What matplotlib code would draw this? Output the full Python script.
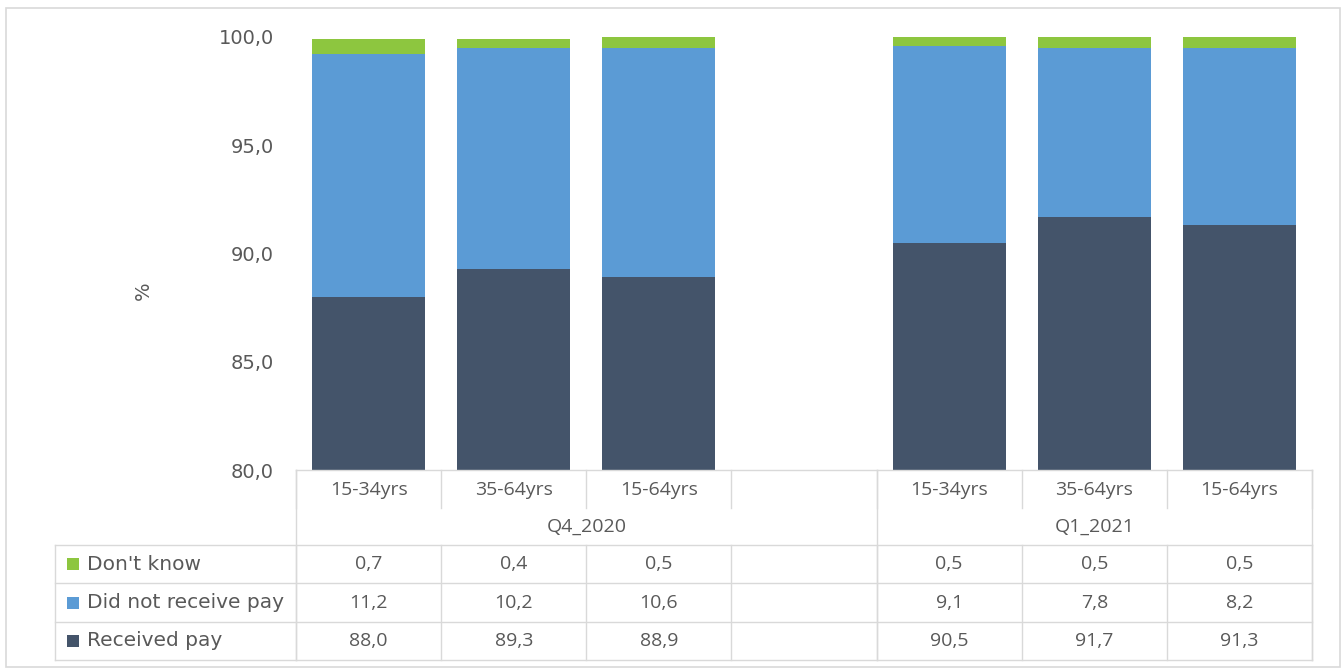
import numpy as np
import matplotlib
matplotlib.use("Agg")
import matplotlib.pyplot as plt
from matplotlib.transforms import blended_transform_factory
from matplotlib.lines import Line2D
from matplotlib.patches import Rectangle

# data
groups = ["Q4_2020", "Q1_2021"]
ages = ["15-34yrs", "35-64yrs", "15-64yrs"]
received = [88.0, 89.3, 88.9, 90.5, 91.7, 91.3]
not_received = [11.2, 10.2, 10.6, 9.1, 7.8, 8.2]
dont_know = [0.7, 0.4, 0.5, 0.5, 0.5, 0.5]
series_names = ["Don't know", "Did not receive pay", "Received pay"]
colors = {"Received pay": "#44546A", "Did not receive pay": "#5B9BD5", "Don't know": "#8DC63F"}

xpos = [0, 1, 2, 4, 5, 6]
W, H = 1341, 669
txt = "#595959"
grid = "#D9D9D9"
plt.rcParams['font.family'] = ['Open Sans', 'DejaVu Sans']
wide = ['DejaVu Sans']

fig = plt.figure(figsize=(W / 100, H / 100), dpi=100)
ax = fig.add_axes([296 / W, 1 - 470 / H, (1312 - 296) / W, (470 - 37) / H])

bw = 0.78
ax.bar(xpos, received, bw, color=colors["Received pay"])
ax.bar(xpos, not_received, bw, bottom=received, color=colors["Did not receive pay"])
bot2 = np.array(received) + np.array(not_received)
ax.bar(xpos, dont_know, bw, bottom=bot2, color=colors["Don't know"])

ax.set_xlim(-0.5, 6.5)
ax.set_ylim(80, 100)
ax.set_yticks([80, 85, 90, 95, 100])
ax.set_yticklabels([f"{v:.1f}".replace(".", ",") for v in [80, 85, 90, 95, 100]],
                   fontsize=14, color=txt, family=wide)
ax.tick_params(axis="y", length=0, pad=16)
ax.set_xticks([])
for s in ax.spines.values():
    s.set_visible(False)
fig.text(143 / W, 1 - 291 / H, "%", rotation=90, fontsize=14, color=txt, ha="center", va="center",
         family=wide)

# table below, x in data units, y in pixels from top
tr = blended_transform_factory(ax.transData, fig.transFigure)
def fy(p):
    return 1 - p / H
x_lab = -0.5 + (55 - 296) / 145.0

def hline(x0, x1, y):
    fig.add_artist(Line2D([x0, x1], [fy(y), fy(y)], transform=tr, color=grid, lw=1))
def vline(x, y0, y1):
    fig.add_artist(Line2D([x, x], [fy(y0), fy(y1)], transform=tr, color=grid, lw=1))

row_y = [470, 508, 545, 583, 622, 660]
hline(-0.5, 6.5, 470)
for y in row_y[2:]:
    hline(x_lab, 6.5, y)
# category row separators
for k in range(8):
    vline(-0.5 + k, 470, 508)
# group boundaries full height
for xb in [-0.5, 3.5, 6.5]:
    vline(xb, 470, 660)
for k in range(8):
    vline(-0.5 + k, 545, 660)
vline(x_lab, 545, 660)

for i, x in enumerate(xpos):
    ax.text(x, fy(490), ages[i % 3], transform=tr, ha="center", va="center", fontsize=14, color=txt)
ax.text(1.5, fy(527), groups[0], transform=tr, ha="center", va="center", fontsize=14, color=txt)
ax.text(5.0, fy(527), groups[1], transform=tr, ha="center", va="center", fontsize=14, color=txt)

table_vals = {"Don't know": dont_know, "Did not receive pay": not_received, "Received pay": received}
for r, name in enumerate(series_names):
    yc = (row_y[2 + r] + row_y[3 + r]) / 2
    fig.add_artist(Rectangle((67 / W, fy(yc + 6)), 12 / W, 12 / H, transform=fig.transFigure,
                             color=colors[name], lw=0))
    fig.text(87 / W, fy(yc), name, ha="left", va="center", fontsize=14.5, color=txt, family=wide)
    for i, x in enumerate(xpos):
        ax.text(x, fy(yc), f"{table_vals[name][i]:.1f}".replace(".", ","), transform=tr,
                ha="center", va="center", fontsize=14, color=txt)

# outer frame
fig.add_artist(Rectangle((6 / W, 1 - 667 / H), 1334 / W, 659 / H, transform=fig.transFigure,
                         fill=False, edgecolor=grid, lw=1.2))

fig.savefig("out.png", dpi=100)
